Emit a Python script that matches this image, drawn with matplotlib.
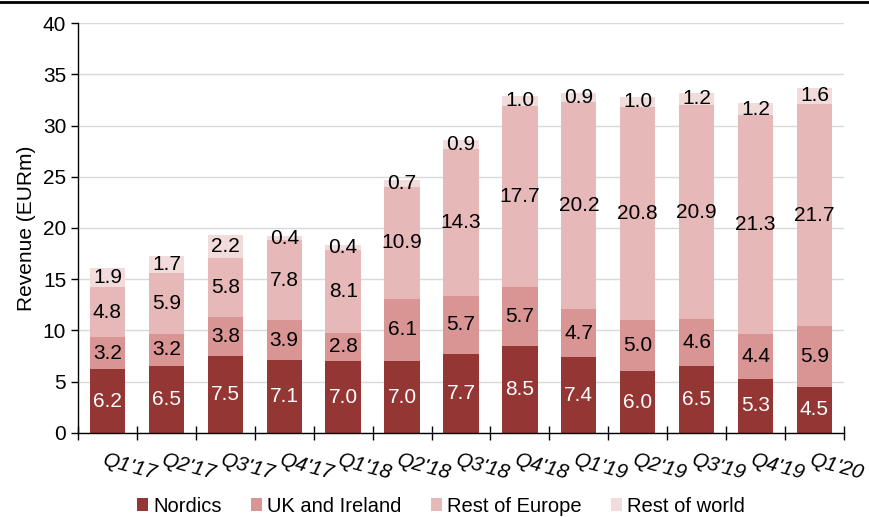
import matplotlib.pyplot as plt
import numpy as np
from matplotlib.lines import Line2D
from matplotlib.patches import Patch

plt.rcParams['font.family'] = ['Liberation Sans', 'DejaVu Sans']

quarters = ["Q1'17", "Q2'17", "Q3'17", "Q4'17", "Q1'18", "Q2'18", "Q3'18",
            "Q4'18", "Q1'19", "Q2'19", "Q3'19", "Q4'19", "Q1'20"]
nordics = [6.2, 6.5, 7.5, 7.1, 7.0, 7.0, 7.7, 8.5, 7.4, 6.0, 6.5, 5.3, 4.5]
uk_ireland = [3.2, 3.2, 3.8, 3.9, 2.8, 6.1, 5.7, 5.7, 4.7, 5.0, 4.6, 4.4, 5.9]
rest_europe = [4.8, 5.9, 5.8, 7.8, 8.1, 10.9, 14.3, 17.7, 20.2, 20.8, 20.9, 21.3, 21.7]
rest_world = [1.9, 1.7, 2.2, 0.4, 0.4, 0.7, 0.9, 1.0, 0.9, 1.0, 1.2, 1.2, 1.6]

series = [('Nordics', nordics, '#943634', 'white'),
          ('UK and Ireland', uk_ireland, '#D99594', 'black'),
          ('Rest of Europe', rest_europe, '#E6B9B8', 'black'),
          ('Rest of world', rest_world, '#F2DCDB', 'black')]

fig = plt.figure(figsize=(8.7, 5.17), dpi=100)
ax = fig.add_axes([0.0897, 0.1625, 0.8803, 0.793])

x = np.arange(len(quarters))
bottom = np.zeros(len(quarters))
for name, vals, col, tcol in series:
    vals = np.array(vals)
    ax.bar(x, vals, 0.6, bottom=bottom, color=col, label=name, zorder=2)
    for xi, b, v in zip(x, bottom, vals):
        ax.text(xi, b + v / 2, '%.1f' % v, ha='center', va='center',
                color=tcol, fontsize=15, zorder=3)
    bottom = bottom + vals

ax.set_xlim(-0.5, len(quarters) - 0.5)
ax.set_ylim(0, 40)
ax.set_yticks(np.arange(0, 41, 5))
ax.tick_params(axis='y', labelsize=15, direction='out', length=5, width=1)
ax.yaxis.grid(True, color='#d9d9d9', linewidth=1, zorder=0)
ax.set_axisbelow(True)

# ticks between categories, labels tilted under each bar
ax.set_xticks(np.arange(len(quarters) + 1) - 0.5)
ax.set_xticklabels([])
ax.tick_params(axis='x', direction='inout', length=10, width=1)
for xi, q in zip(x, quarters):
    ax.text(xi - 0.03, -1.7, q, ha='left', va='top', rotation=-15,
            rotation_mode='anchor', fontsize=15, fontstyle='italic')

for s in ['top', 'right']:
    ax.spines[s].set_visible(False)
ax.spines['left'].set_linewidth(1)
ax.spines['bottom'].set_linewidth(1)

ax.set_ylabel('Revenue (EURm)', fontsize=15, labelpad=5)

handles = [Patch(facecolor=c, label=n) for n, _, c, _ in series]
fig.legend(handles=handles, loc='center', bbox_to_anchor=(0.507, 0.021), ncol=4,
           frameon=False, fontsize=14.5, handlelength=0.55, handleheight=0.6,
           handletextpad=0.25, columnspacing=1.45, borderaxespad=0, borderpad=0)

fig.add_artist(Line2D([0, 1], [0.996, 0.996], color='black', linewidth=2,
                      transform=fig.transFigure))

fig.savefig('out.png', dpi=100)
